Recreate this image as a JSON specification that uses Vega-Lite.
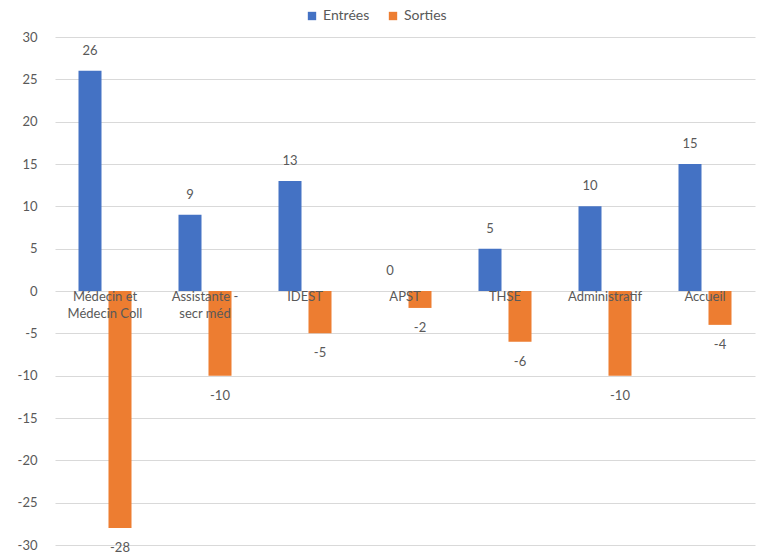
{
  "$schema": "https://vega.github.io/schema/vega-lite/v6.json",
  "width": 700,
  "height": 508,
  "autosize": "none",
  "padding": {"left": 55, "top": 37, "right": 4, "bottom": 11},
  "background": "white",
  "config": {
    "view": {"stroke": null},
    "font": "Lato",
    "text": {"font": "Lato"},
    "axis": {"labelFont": "Lato", "labelColor": "#595959", "labelFontSize": 13}
  },
  "data": {
    "values": [
      {"cat": "Médecin et\nMédecin Coll", "series": "Entrées", "value": 26},
      {"cat": "Médecin et\nMédecin Coll", "series": "Sorties", "value": -28},
      {"cat": "Assistante -\nsecr méd", "series": "Entrées", "value": 9},
      {"cat": "Assistante -\nsecr méd", "series": "Sorties", "value": -10},
      {"cat": "IDEST", "series": "Entrées", "value": 13},
      {"cat": "IDEST", "series": "Sorties", "value": -5},
      {"cat": "APST", "series": "Entrées", "value": 0},
      {"cat": "APST", "series": "Sorties", "value": -2},
      {"cat": "THSE", "series": "Entrées", "value": 5},
      {"cat": "THSE", "series": "Sorties", "value": -6},
      {"cat": "Administratif", "series": "Entrées", "value": 10},
      {"cat": "Administratif", "series": "Sorties", "value": -10},
      {"cat": "Accueil", "series": "Entrées", "value": 15},
      {"cat": "Accueil", "series": "Sorties", "value": -4}
    ]
  },
  "encoding": {
    "x": {
      "field": "cat", "type": "nominal", "sort": null, "axis": null,
      "scale": {"paddingInner": 0.47, "paddingOuter": 0.235}
    },
    "y": {
      "field": "value", "type": "quantitative",
      "scale": {"domain": [-30, 30], "nice": false},
      "axis": {
        "title": null, "values": [-30,-25,-20,-15,-10,-5,0,5,10,15,20,25,30],
        "labelExpr": "'' + datum.value",
        "domain": false, "ticks": false, "labelPadding": 18,
        "gridColor": "#D9D9D9", "gridWidth": 1
      }
    }
  },
  "layer": [
    {
      "mark": {"type": "bar"},
      "encoding": {
        "xOffset": {"field": "series", "type": "nominal", "scale": {"paddingInner": 0.233, "paddingOuter": 0}},
        "color": {
          "field": "series", "type": "nominal",
          "scale": {"domain": ["Entrées", "Sorties"], "range": ["#4472C4", "#ED7D31"]},
          "legend": {
            "title": null, "orient": "none", "direction": "horizontal",
            "legendX": 250, "legendY": -28,
            "symbolType": "square", "symbolSize": 70, "symbolStrokeWidth": 0,
            "labelFontSize": 14, "labelColor": "#595959", "labelFont": "Lato",
            "columnPadding": 16, "labelOffset": 4
          }
        }
      }
    },
    {
      "transform": [{"filter": "datum.series === 'Entrées'"}],
      "mark": {"type": "text", "dy": -20, "fontSize": 13, "color": "#595959", "baseline": "middle"},
      "encoding": {
        "xOffset": {"field": "series", "type": "nominal"},
        "text": {"field": "value", "type": "nominal"}
      }
    },
    {
      "transform": [{"filter": "datum.series === 'Sorties'"}],
      "mark": {"type": "text", "dy": 20, "fontSize": 13, "color": "#595959", "baseline": "middle"},
      "encoding": {
        "xOffset": {"field": "series", "type": "nominal"},
        "text": {"field": "value", "type": "nominal"}
      }
    },
    {
      "transform": [{"filter": "datum.series === 'Entrées'"}],
      "mark": {"type": "text", "baseline": "top", "dy": 0, "fontSize": 13, "color": "#595959", "lineBreak": "\n", "lineHeight": 17},
      "encoding": {
        "x": {"field": "cat", "type": "nominal", "sort": null, "bandPosition": 0.5},
        "y": {"datum": 0},
        "text": {"field": "cat", "type": "nominal"}
      }
    }
  ]
}
